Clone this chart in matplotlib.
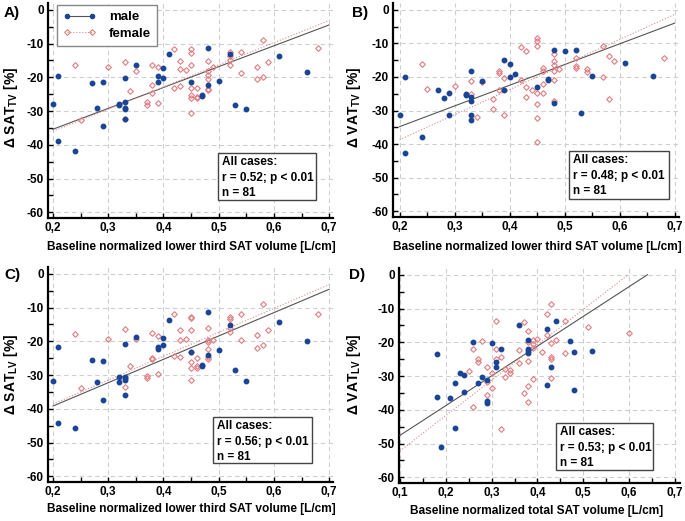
import matplotlib
matplotlib.use('Agg')
import matplotlib.pyplot as plt
from matplotlib.lines import Line2D
from matplotlib.patches import Rectangle
from matplotlib.ticker import MultipleLocator, FuncFormatter

plt.rcParams['font.family'] = 'Liberation Sans'
plt.rcParams['font.weight'] = 'bold'
plt.rcParams['axes.unicode_minus'] = False
plt.rcParams['mathtext.fontset'] = 'custom'
plt.rcParams['mathtext.rm'] = 'Liberation Sans'
plt.rcParams['mathtext.bf'] = 'Liberation Sans:bold'

# ---- data ----
# panels A-C share the x values (lower third SAT volume)
male_x = [0.20, 0.21, 0.21, 0.24, 0.27, 0.28, 0.29, 0.29, 0.32, 0.32, 0.33, 0.33, 0.33, 0.33, 0.33, 0.35,
          0.39, 0.39, 0.40, 0.40, 0.41, 0.45, 0.47, 0.47, 0.48, 0.48, 0.50, 0.52, 0.53, 0.55, 0.61, 0.66]
female_x = [0.24, 0.25, 0.30, 0.33, 0.33, 0.34, 0.35, 0.37, 0.37, 0.38, 0.38, 0.38, 0.39, 0.39, 0.42, 0.42,
            0.43, 0.43, 0.43, 0.44, 0.45, 0.45, 0.45, 0.45, 0.45, 0.45, 0.45, 0.46, 0.46, 0.46, 0.48, 0.48,
            0.48, 0.48, 0.48, 0.48, 0.49, 0.52, 0.52, 0.52, 0.52, 0.54, 0.54, 0.57, 0.57, 0.58, 0.58, 0.59, 0.68]
female_x_b = [0.24, 0.25, 0.30, 0.33, 0.33, 0.34, 0.35, 0.37, 0.37, 0.38, 0.38, 0.38, 0.39, 0.39, 0.42, 0.42,
              0.43, 0.43, 0.43, 0.44, 0.45, 0.45, 0.45, 0.45, 0.45, 0.45, 0.45, 0.46, 0.46, 0.46, 0.46, 0.48,
              0.48, 0.48, 0.48, 0.48, 0.48, 0.49, 0.52, 0.52, 0.52, 0.54, 0.54, 0.57, 0.57, 0.58, 0.58, 0.59, 0.68]

a_male_y = [-28.0, -19.6, -39.0, -41.8, -21.8, -29.1, -21.4, -34.5, -28.1, -27.8, -20.3, -27.4, -29.0, -29.3,
            -32.3, -16.5, -19.6, -21.4, -17.3, -20.1, -13.0, -21.3, -25.5, -25.2, -11.3, -22.2, -21.0, -13.1,
            -28.1, -29.4, -13.6, -18.5]
a_female_y = [-16.5, -32.6, -17.0, -15.4, -32.5, -24.1, -18.1, -27.4, -28.3, -16.3, -22.4, -24.7, -17.1, -27.7,
              -11.7, -23.1, -15.2, -17.5, -22.6, -17.9, -11.7, -12.7, -16.4, -23.2, -25.2, -26.0, -30.7, -23.3,
              -25.8, -26.2, -15.1, -18.1, -19.4, -20.6, -23.4, -23.8, -17.1, -12.4, -13.6, -14.9, -16.4, -12.4,
              -18.8, -16.9, -20.4, -19.9, -8.9, -15.4, -11.3]

b_male_y = [-31.3, -19.9, -42.6, -37.9, -24.0, -26.3, -24.7, -31.3, -25.1, -25.5, -18.2, -26.0, -27.3, -31.4,
            -32.9, -21.1, -15.1, -24.0, -16.1, -19.9, -19.1, -22.9, -20.6, -20.8, -12.0, -27.7, -12.4, -11.9,
            -30.7, -19.7, -15.9, -19.6]
b_female_y = [-16.1, -23.5, -22.6, -21.2, -25.1, -32.0, -21.5, -26.6, -29.6, -18.2, -18.7, -24.0, -20.3, -31.3,
              -11.1, -20.9, -12.3, -23.1, -26.0, -23.9, -8.4, -9.3, -10.8, -24.8, -28.2, -32.1, -39.3, -17.2,
              -18.2, -22.1, -24.8, -13.2, -15.3, -16.5, -18.1, -20.9, -27.2, -17.6, -14.4, -16.7, -17.3, -17.6,
              -18.6, -10.7, -20.0, -13.9, -26.6, -15.3, -14.4]

c_male_y = [-31.8, -21.6, -44.2, -45.8, -25.5, -32.0, -25.9, -37.5, -30.5, -32.1, -20.9, -30.6, -31.0, -31.4,
            -35.9, -18.7, -21.6, -22.2, -19.0, -21.1, -13.7, -23.1, -27.1, -27.3, -11.2, -24.2, -22.7, -15.3,
            -28.5, -31.7, -14.4, -19.9]
c_female_y = [-17.9, -33.9, -19.3, -16.5, -33.7, -27.3, -19.2, -30.3, -30.9, -17.5, -25.3, -24.9, -18.4, -29.6,
              -12.0, -24.3, -16.8, -19.6, -24.6, -19.2, -12.9, -13.2, -16.8, -23.3, -26.2, -27.9, -31.4, -25.1,
              -27.4, -27.9, -16.0, -19.6, -20.2, -22.3, -24.6, -25.2, -19.6, -12.9, -13.4, -16.1, -17.2, -11.8,
              -19.6, -18.0, -22.1, -21.0, -9.0, -16.6, -11.8]

# panel D: total SAT volume
d_male_x = [0.18, 0.18, 0.19, 0.21, 0.22, 0.22, 0.23, 0.24, 0.24, 0.26, 0.27, 0.28, 0.29, 0.29, 0.29, 0.30,
            0.31, 0.31, 0.32, 0.36, 0.38, 0.38, 0.38, 0.38, 0.42, 0.42, 0.43, 0.44, 0.47, 0.48, 0.48, 0.52]
d_male_y = [-23.6, -36.2, -51.0, -36.6, -32.2, -45.5, -29.2, -29.8, -34.6, -20.0, -32.0, -30.4, -31.3, -37.3,
            -37.9, -20.2, -25.8, -27.4, -22.0, -15.0, -19.3, -22.0, -22.6, -23.1, -16.0, -32.6, -27.3, -13.7,
            -19.5, -23.0, -34.2, -22.7]
d_female_x = [0.25, 0.26, 0.26, 0.27, 0.27, 0.28, 0.29, 0.29, 0.29, 0.30, 0.30, 0.31, 0.31, 0.31, 0.32, 0.32,
              0.33, 0.33, 0.34, 0.34, 0.36, 0.36, 0.37, 0.37, 0.38, 0.38, 0.38, 0.38, 0.38, 0.39, 0.39, 0.39,
              0.39, 0.40, 0.41, 0.42, 0.42, 0.43, 0.43, 0.43, 0.43, 0.43, 0.44, 0.46, 0.46, 0.51, 0.60]
d_female_y = [-28.5, -22.0, -39.3, -25.0, -25.9, -19.6, -27.2, -31.9, -35.6, -29.0, -33.7, -13.8, -22.0, -25.0,
              -24.5, -45.6, -28.0, -30.2, -28.2, -29.2, -22.2, -26.2, -14.1, -35.1, -16.7, -20.0, -25.6, -32.9,
              -37.8, -19.3, -20.5, -21.6, -30.9, -18.9, -22.8, -11.7, -17.8, -8.6, -20.3, -24.5, -25.0, -30.5,
              -19.4, -13.6, -23.2, -15.6, -17.4]

# regression lines (end points)
a_fit_male = ([0.2, 0.7], [-35.4, -4.5])
a_fit_female = ([0.2, 0.7], [-36.0, -3.2])
b_fit_male = ([0.2, 0.7], [-34.8, -4.0])
b_fit_female = ([0.2, 0.7], [-38.7, -1.4])
c_fit_male = ([0.2, 0.7], [-39.2, -4.6])
c_fit_female = ([0.2, 0.7], [-38.6, -3.2])
d_fit_male = ([0.1, 0.64], [-47.6, 0.0])
d_fit_female = ([0.1, 0.598], [-52.2, 0.0])

stats_r = ['0.52', '0.48', '0.56', '0.53']
panel_letters = ['A)', 'B)', 'C)', 'D)']
ylabels = ['Δ SAT$_\\mathbf{TV}$ [%]', 'Δ VAT$_\\mathbf{TV}$ [%]',
           'Δ SAT$_\\mathbf{LV}$ [%]', 'Δ VAT$_\\mathbf{LV}$ [%]']
xlabels = ['Baseline normalized lower third SAT volume [L/cm]',
           'Baseline normalized lower third SAT volume [L/cm]',
           'Baseline normalized lower third SAT volume [L/cm]',
           'Baseline normalized total SAT volume [L/cm]']

MALE_C = '#1a4596'
FEMALE_C = '#e07c80'
LINE_M = '#555555'
LINE_F = '#de8a8a'
GRID_C = '#cfcfcf'

W, H = 685, 521
fig = plt.figure(figsize=(W / 100, H / 100), dpi=100)


def fx(px):
    return px / W


def fy(py):
    return 1 - py / H


# pixel layout: axes (x0, ytop, x1, ybottom), stats box, letter pos, ylabel pos, xlabel pos
layout = [
    dict(ax=(48, 3, 333, 218), xlim=(0.191, 0.707), box=(218, 153, 316, 200),
         letter=(12, 13), ylab=(11, 107), xlab=(191, 247)),
    dict(ax=(393, 3, 679, 217), xlim=(0.188, 0.708), box=(569, 151, 669, 199),
         letter=(360, 13), ylab=(354, 107), xlab=(537, 247)),
    dict(ax=(48, 267, 333, 482), xlim=(0.191, 0.707), box=(213, 417, 312, 463),
         letter=(12, 275), ylab=(11, 374), xlab=(191, 509)),
    dict(ax=(399, 268, 680, 483), xlim=(0.098, 0.711), box=(556, 423, 653, 470),
         letter=(357, 275), ylab=(354, 374), xlab=(537, 511)),
]

series = [
    (male_x, a_male_y, female_x, a_female_y, a_fit_male, a_fit_female),
    (male_x, b_male_y, female_x_b, b_female_y, b_fit_male, b_fit_female),
    (male_x, c_male_y, female_x, c_female_y, c_fit_male, c_fit_female),
    (d_male_x, d_male_y, d_female_x, d_female_y, d_fit_male, d_fit_female),
]

comma = FuncFormatter(lambda v, p: ('%.1f' % v).replace('.', ','))
intfmt = FuncFormatter(lambda v, p: '%d' % round(v))

for i, (lay, ser) in enumerate(zip(layout, series)):
    x0, yt, x1, yb = lay['ax']
    ax = fig.add_axes([fx(x0), fy(yb), fx(x1 - x0), (yb - yt) / H])
    mx, my, fxs, fys, fit_m, fit_f = ser

    ax.plot(fit_m[0], fit_m[1], color=LINE_M, lw=0.8, zorder=3)
    ax.plot(fit_f[0], fit_f[1], color=LINE_F, lw=0.8, ls=':', zorder=3)
    ax.plot(fxs, fys, ls='none', marker='D', ms=2.9, mfc='none', mec=FEMALE_C, mew=0.8, zorder=4)
    ax.plot(mx, my, ls='none', marker='o', ms=3.2, color=MALE_C, mec=MALE_C, zorder=5)

    ax.set_xlim(lay['xlim'])
    ax.set_ylim(-61.7, 2.0)
    ax.xaxis.set_major_locator(MultipleLocator(0.1))
    ax.xaxis.set_minor_locator(MultipleLocator(0.05))
    ax.yaxis.set_major_locator(MultipleLocator(10))
    ax.yaxis.set_minor_locator(MultipleLocator(5))
    ax.xaxis.set_major_formatter(comma)
    ax.yaxis.set_major_formatter(intfmt)
    ax.tick_params(which='both', direction='in', length=3.5, width=1.0, labelsize=8.5, pad=3)
    for lab in ax.get_xticklabels() + ax.get_yticklabels():
        lab.set_fontweight('bold')
    ax.grid(True, which='major', color=GRID_C, lw=0.8, ls=(0, (4, 3)))
    ax.set_axisbelow(True)
    ax.spines['top'].set_visible(False)
    ax.spines['right'].set_visible(False)
    ax.spines['left'].set_linewidth(1.6)
    ax.spines['bottom'].set_linewidth(1.6)
    ax.patch.set_alpha(0)

    # stats box
    bx0, by0, bx1, by1 = lay['box']
    fig.patches.append(Rectangle((fx(bx0), fy(by1)), fx(bx1 - bx0), (by1 - by0) / H,
                                 transform=fig.transFigure, facecolor='white',
                                 edgecolor='#444444', lw=1.0, zorder=10))
    stat_lines = ['All cases:', 'r = ' + stats_r[i] + '; p < 0.01', 'n = 81']
    for k, s in enumerate(stat_lines):
        fig.text(fx(bx0 + 4), fy(by0 + 12 + 15.5 * k), s, fontsize=8.5, fontweight='bold',
                 va='baseline', ha='left', zorder=11)

    fig.text(fx(lay['letter'][0]), fy(lay['letter'][1]), panel_letters[i], fontsize=11,
             fontweight='bold', ha='center', va='center')
    fig.text(fx(lay['ylab'][0]), fy(lay['ylab'][1]), ylabels[i], fontsize=10, fontweight='bold',
             rotation=90, ha='center', va='center')
    fig.text(fx(lay['xlab'][0]), fy(lay['xlab'][1]), xlabels[i], fontsize=8.6, fontweight='bold',
             ha='center', va='center')

    if i == 0:
        handles = [Line2D([], [], color=LINE_M, lw=0.8, marker='o', ms=3, mfc=MALE_C, mec=MALE_C),
                   Line2D([], [], color=LINE_F, lw=0.8, ls=':', marker='D', ms=2.9, mfc='none',
                          mec=FEMALE_C, mew=0.8)]
        leg = ax.legend(handles, ['male', 'female'], loc='upper left',
                        bbox_to_anchor=((57 - 48) / 285, 1 - 2 / 215), borderaxespad=0,
                        fancybox=False, edgecolor='#888888', framealpha=1, numpoints=2,
                        handlelength=2.5, handletextpad=1.0, borderpad=0.45, labelspacing=0.35,
                        prop={'weight': 'bold', 'size': 9.5})
        leg.get_frame().set_linewidth(1.0)

fig.savefig('out.png', dpi=100)
